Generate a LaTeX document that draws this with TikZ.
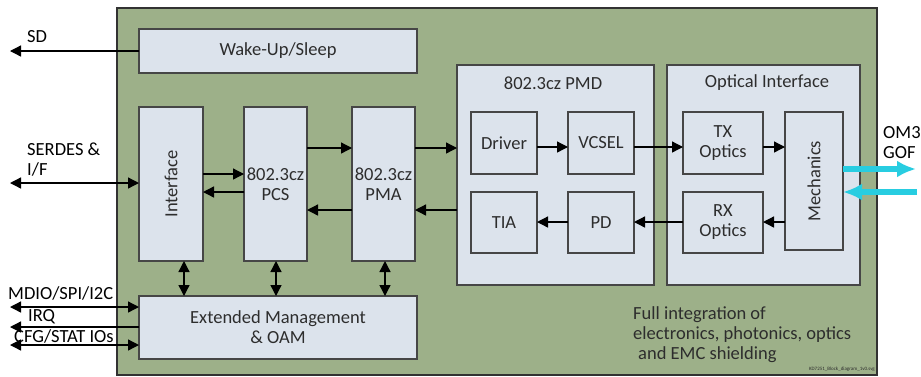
\documentclass[tikz,border=0pt]{standalone}
\usepackage{fontspec}
\usepackage{graphicx}
\setmainfont{Carlito}
\usetikzlibrary{arrows.meta}
\definecolor{bggreen}{RGB}{157,176,137}
\definecolor{boxfill}{RGB}{220,227,236}
\definecolor{boxline}{RGB}{70,70,70}
\definecolor{txtgray}{RGB}{45,45,45}
\definecolor{fiber}{RGB}{40,205,225}
\definecolor{chipline}{RGB}{50,50,50}
\begin{document}
\begin{tikzpicture}[x=1pt,y=-1pt,
  blk/.style={draw=boxline, fill=boxfill, line width=1.3pt, text=txtgray,
    font=\fontsize{18.5}{20}\selectfont, align=center, inner sep=0pt, outer sep=0pt},
  lbl/.style={font=\fontsize{18.5}{20}\selectfont, inner sep=0pt, align=left},
  arr/.style={line width=1.3pt, -{Triangle[length=11pt,width=11pt]}},
  darr/.style={line width=1.3pt, {Triangle[length=11pt,width=11pt]}-{Triangle[length=11pt,width=11pt]}},
  fib/.style={line width=6.5pt, draw=fiber, -{Latex[length=19pt,width=17pt]}}]
\useasboundingbox (0,0) rectangle (921,376);
% chip background
\node[draw=chipline, fill=bggreen, line width=1.5pt,
  minimum width=760pt, minimum height=367pt, inner sep=0pt, outer sep=0pt] (chip) at (497,191.5) {};
% blocks
\node[blk, minimum width=278pt, minimum height=44pt] (wake) at (278,51) {Wake-Up/Sleep};
\node[blk, minimum width=64pt, minimum height=154pt] (iface) at (171,184) {\rotatebox{90}{Interface}};
\node[blk, minimum width=63pt, minimum height=154pt] (pcs) at (275.5,184) {802.3cz\\PCS};
\node[blk, minimum width=63pt, minimum height=154pt] (pma) at (383.5,184) {802.3cz\\PMA};
\node[blk, minimum width=278pt, minimum height=63pt] (mgmt) at (278,327.5) {Extended Management\\\& OAM};
\node[blk, minimum width=197pt, minimum height=220pt] (pmd) at (555.5,175) {};
\node[blk, minimum width=193pt, minimum height=220pt] (opt) at (763.5,175) {};
\node[lbl, text=txtgray] (pmdt) at (553,83) {802.3cz PMD};
\node[lbl, text=txtgray] (optt) at (767,83) {Optical Interface};
\node[blk, minimum width=66pt, minimum height=62pt] (drv) at (504,143) {Driver};
\node[blk, minimum width=66pt, minimum height=62pt] (vcsel) at (601,143) {VCSEL};
\node[blk, minimum width=66pt, minimum height=61pt] (tia) at (504,222.5) {TIA};
\node[blk, minimum width=66pt, minimum height=61pt] (pd) at (601,222.5) {PD};
\node[blk, minimum width=80pt, minimum height=62pt] (tx) at (723,143) {TX\\Optics};
\node[blk, minimum width=80pt, minimum height=61pt] (rx) at (723,222.5) {RX\\Optics};
\node[blk, minimum width=58pt, minimum height=138pt] (mech) at (814,181) {\rotatebox{90}{Mechanics}};
% outside end points
\coordinate (sdE) at (10,51);
\coordinate (serE) at (10,183);
\coordinate (mdioE) at (10,307);
\coordinate (irqE) at (10,327);
\coordinate (cfgE) at (10,345);
\coordinate (txE) at (916,169);
\coordinate (rxE) at (917,192);
% labels
\node[lbl, anchor=west] (sdl) at (27,37) {SD};
\node[lbl, anchor=west] (serl) at (27,160) {SERDES \&\\I/F};
\node[lbl, anchor=west] (mdiol) at (8,293) {MDIO/SPI/I2C};
\node[lbl, anchor=west] (irql) at (28,317) {IRQ};
\node[lbl, anchor=west] (cfgl) at (14,336) {CFG/STAT IOs};
\node[lbl, anchor=west] (om3) at (883,142.5) {OM3\\GOF};
\node[lbl, anchor=west, text=txtgray] (full) at (633,334.5) {Full integration of\\electronics, photonics, optics\\\hspace{5pt}and EMC shielding};
\node[font=\fontsize{5}{6}\selectfont, inner sep=0pt, anchor=east, text=txtgray] (fname) at (875,369) {KD7251\_Block\_diagram\_1v0.svg};
% connectors
\draw[arr] (wake.west) -- (sdE);
\draw[darr] (serE) -- (iface.west |- serE);
\draw[darr] (mdioE) -- (mgmt.west |- mdioE);
\draw[arr] (mgmt.west |- irqE) -- (irqE);
\draw[darr] (cfgE) -- (mgmt.west |- cfgE);
\draw[arr] (iface.east |- 0,174) -- (pcs.west |- 0,174);
\draw[arr] (pcs.west |- 0,192) -- (iface.east |- 0,192);
\draw[arr] (pcs.east |- 0,148) -- (pma.west |- 0,148);
\draw[arr] (pma.west |- 0,210) -- (pcs.east |- 0,210);
\draw[arr] (pma.east |- 0,148) -- (pmd.west |- 0,148);
\draw[arr] (pmd.west |- 0,210) -- (pma.east |- 0,210);
\draw[darr] (iface.south -| 184,0) -- (mgmt.north -| 184,0);
\draw[darr] (pcs.south -| 276,0) -- (mgmt.north -| 276,0);
\draw[darr] (pma.south -| 385,0) -- (mgmt.north -| 385,0);
\draw[arr] (drv.east |- 0,147) -- (vcsel.west |- 0,147);
\draw[arr] (vcsel.east |- 0,147) -- (tx.west |- 0,147);
\draw[arr] (tx.east |- 0,147) -- (mech.west |- 0,147);
\draw[arr] (mech.west |- 0,222) -- (rx.east |- 0,222);
\draw[arr] (rx.west |- 0,222) -- (pd.east |- 0,222);
\draw[arr] (pd.west |- 0,222) -- (tia.east |- 0,222);
\draw[fib] (mech.east |- txE) -- (txE);
\draw[fib] (rxE) -- (mech.east |- rxE);
\end{tikzpicture}
\end{document}
